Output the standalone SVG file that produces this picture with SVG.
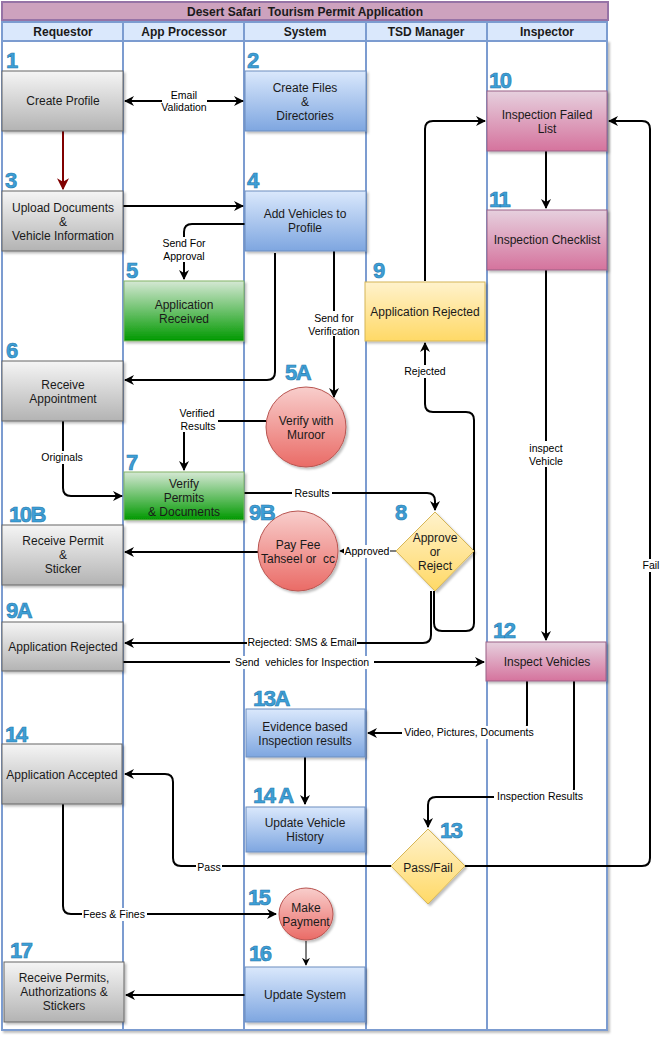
<svg xmlns="http://www.w3.org/2000/svg" width="667" height="1038" viewBox="0 0 667 1038" xml:space="preserve">
<defs>
<linearGradient id="gGray" x1="0" y1="0" x2="0" y2="1"><stop offset="0" stop-color="#f5f5f5"/><stop offset="1" stop-color="#b3b3b3"/></linearGradient>
<linearGradient id="gBlue" x1="0" y1="0" x2="0" y2="1"><stop offset="0" stop-color="#dae8fc"/><stop offset="1" stop-color="#7ea6e0"/></linearGradient>
<linearGradient id="gGreen" x1="0" y1="0" x2="0" y2="1"><stop offset="0" stop-color="#d5e8d4"/><stop offset="1" stop-color="#009900"/></linearGradient>
<linearGradient id="gPink" x1="0" y1="0" x2="0" y2="1"><stop offset="0" stop-color="#e6d0de"/><stop offset="1" stop-color="#d5739d"/></linearGradient>
<linearGradient id="gYellow" x1="0" y1="0" x2="0" y2="1"><stop offset="0" stop-color="#fff2cc"/><stop offset="1" stop-color="#ffd966"/></linearGradient>
<linearGradient id="gRed" x1="0" y1="0" x2="0" y2="1"><stop offset="0" stop-color="#f8cecc"/><stop offset="1" stop-color="#ea6b66"/></linearGradient>
<filter id="sh" x="-10%" y="-10%" width="130%" height="130%"><feDropShadow dx="2" dy="2" stdDeviation="1.2" flood-color="#000" flood-opacity="0.25"/></filter>
<marker id="arrS" viewBox="0 0 10 10" refX="9" refY="5" markerWidth="10" markerHeight="10" markerUnits="userSpaceOnUse" orient="auto-start-reverse"><path d="M0,0 L10,5 L0,10 L3,5 z" fill="#000"/></marker>
<marker id="arrR" viewBox="0 0 10 10" refX="9" refY="5" markerWidth="12" markerHeight="12" markerUnits="userSpaceOnUse" orient="auto"><path d="M0,0 L10,5 L0,10 L3,5 z" fill="#800000"/></marker>
<marker id="arrT" viewBox="0 0 10 10" refX="9" refY="5" markerWidth="8" markerHeight="8" markerUnits="userSpaceOnUse" orient="auto"><path d="M0,0 L10,5 L0,10 L3,5 z" fill="#000"/></marker>
</defs>
<style>
text{font-family:"Liberation Sans",Arial,sans-serif;fill:#1a1a1a;white-space:pre;}
.t{font-size:12px;text-anchor:middle;}
.hd{font-size:12px;font-weight:bold;text-anchor:middle;fill:#1a1a1a;}
.lbl{font-size:10.5px;text-anchor:middle;fill:#000;}
.num{font-size:22px;font-weight:bold;fill:#3d9fd6;stroke:#2678ad;stroke-width:0.6;letter-spacing:-1.5px;}
.lane{fill:#fff;stroke:#7c9cd0;stroke-width:2;}
.head{fill:#dae8fc;stroke:#7c9cd0;stroke-width:2;}
.gray{fill:url(#gGray);stroke:#666;stroke-width:1;filter:url(#sh);}
.blue{fill:url(#gBlue);stroke:#6c8ebf;stroke-width:1;filter:url(#sh);}
.green{fill:url(#gGreen);stroke:#82b366;stroke-width:1;filter:url(#sh);}
.pink{fill:url(#gPink);stroke:#996185;stroke-width:1;filter:url(#sh);}
.yellow{fill:url(#gYellow);stroke:#d6b656;stroke-width:1;filter:url(#sh);}
.red{fill:url(#gRed);stroke:#b85450;stroke-width:1;filter:url(#sh);}
.c{fill:none;stroke:#000;stroke-width:2;}
.lb{fill:#fff;}
</style>
<rect width="667" height="1038" fill="#fff"/>
<g id="pool">
<rect x="2" y="2" width="606" height="18" fill="#cda2be" stroke="#9673a6" stroke-width="2"/>
<text x="305" y="15.5" class="hd">Desert Safari  Tourism Permit Application</text>
<g filter="url(#sh)">
<rect class="lane" x="2" y="41" width="121" height="989"/>
<rect class="lane" x="123" y="41" width="121" height="989"/>
<rect class="lane" x="244" y="41" width="122" height="989"/>
<rect class="lane" x="366" y="41" width="121" height="989"/>
<rect class="lane" x="487" y="41" width="120" height="989"/>
</g>
<rect class="head" x="2" y="22" width="121" height="19"/>
<rect class="head" x="123" y="22" width="121" height="19"/>
<rect class="head" x="244" y="22" width="122" height="19"/>
<rect class="head" x="366" y="22" width="121" height="19"/>
<rect class="head" x="487" y="22" width="120" height="19"/>
<text x="63" y="36" class="hd">Requestor</text>
<text x="184" y="36" class="hd">App Processor</text>
<text x="305" y="36" class="hd">System</text>
<text x="426" y="36" class="hd">TSD Manager</text>
<text x="547" y="36" class="hd">Inspector</text>
</g>
<g id="connectors">
<path class="c" d="M63,131 L63,189" style="stroke:#800000" marker-end="url(#arrR)"/>
<path class="c" d="M125,101 L243,101" marker-start="url(#arrS)" marker-end="url(#arrS)"/>
<rect class="lb" x="162" y="90" width="45" height="24"/>
<text class="lbl" x="184" y="99">Email</text>
<text class="lbl" x="184" y="111">Validation</text>
<path class="c" d="M123,206 L243,206" marker-end="url(#arrS)"/>
<path class="c" d="M245,224 L192,224 Q184,224 184,232 L184,279" marker-end="url(#arrS)"/>
<rect class="lb" x="159" y="237" width="50" height="25"/>
<text class="lbl" x="184" y="247">Send For</text>
<text class="lbl" x="184" y="260">Approval</text>
<path class="c" d="M275,253 L275,372 Q275,380 267,380 L125,380" marker-end="url(#arrS)"/>
<path class="c" d="M334,251 L334,397" marker-end="url(#arrS)"/>
<rect class="lb" x="307" y="311" width="54" height="25"/>
<text class="lbl" x="334" y="322">Send for</text>
<text class="lbl" x="334" y="335">Verification</text>
<path class="c" d="M266,421 L184,421 L184,470" marker-end="url(#arrS)"/>
<rect class="lb" x="178" y="406" width="40" height="26"/>
<text class="lbl" x="197" y="417">Verified</text>
<text class="lbl" x="198" y="430">Results</text>
<path class="c" d="M63,421 L63,488 Q63,496 71,496 L122,496" marker-end="url(#arrS)"/>
<rect class="lb" x="40" y="451" width="45" height="13"/>
<text class="lbl" x="62" y="461">Originals</text>
<path class="c" d="M244,493 L427,493 Q435,493 435,501 L435,510" marker-end="url(#arrS)"/>
<rect class="lb" x="292" y="487" width="40" height="13"/>
<text class="lbl" x="312" y="497">Results</text>
<path class="c" d="M396,551 L340,551" style="stroke-width:1" marker-end="url(#arrT)"/>
<rect class="lb" x="344" y="545" width="46" height="13"/>
<text class="lbl" x="367" y="555">Approved</text>
<path class="c" d="M258,552 L125,552" marker-end="url(#arrS)"/>
<path class="c" d="M434,591 L434,623 Q434,631 442,631 L466,631 Q474,631 474,623 L474,420 Q474,412 466,412 L433,412 Q425,412 425,404 L425,343" marker-end="url(#arrS)"/>
<rect class="lb" x="403" y="365" width="44" height="13"/>
<text class="lbl" x="425" y="375">Rejected</text>
<path class="c" d="M431,591 L431,635 Q431,643 423,643 L125,643" marker-end="url(#arrS)"/>
<rect class="lb" x="247" y="636" width="110" height="13"/>
<text class="lbl" x="302" y="646">Rejected: SMS &amp; Email</text>
<path class="c" d="M123,662 L484,662" marker-end="url(#arrS)"/>
<rect class="lb" x="230" y="656" width="144" height="13"/>
<text class="lbl" x="302" y="666">Send  vehicles for Inspection</text>
<path class="c" d="M425,281 L425,129 Q425,121 433,121 L485,121" marker-end="url(#arrS)"/>
<path class="c" d="M546,151 L546,208" marker-end="url(#arrS)"/>
<path class="c" d="M546,270 L546,640" marker-end="url(#arrS)"/>
<rect class="lb" x="526" y="441" width="40" height="26"/>
<text class="lbl" x="546" y="452">inspect</text>
<text class="lbl" x="546" y="465">Vehicle</text>
<path class="c" d="M465,866 L642,866 Q650,866 650,858 L650,129 Q650,121 642,121 L609,121" marker-end="url(#arrS)"/>
<rect class="lb" x="641" y="559" width="20" height="13"/>
<text class="lbl" x="651" y="569">Fail</text>
<path class="c" d="M527,681 L527,725 Q527,733 519,733 L368,733" marker-end="url(#arrS)"/>
<rect class="lb" x="402" y="726" width="135" height="13"/>
<text class="lbl" x="469" y="736">Video, Pictures, Documents</text>
<path class="c" d="M574,681 L574,789 Q574,797 566,797 L436,797 Q428,797 428,805 L428,827" marker-end="url(#arrS)"/>
<rect class="lb" x="494" y="790" width="92" height="13"/>
<text class="lbl" x="540" y="800">Inspection Results</text>
<path class="c" d="M305,757 L305,804" marker-end="url(#arrS)"/>
<path class="c" d="M391,866 L181,866 Q173,866 173,858 L173,782 Q173,774 165,774 L125,774" marker-end="url(#arrS)"/>
<rect class="lb" x="196" y="861" width="26" height="13"/>
<text class="lbl" x="209" y="871">Pass</text>
<path class="c" d="M63,804 L63,906 Q63,914 71,914 L276,914" marker-end="url(#arrS)"/>
<rect class="lb" x="82" y="908" width="65" height="13"/>
<text class="lbl" x="114" y="918">Fees &amp; Fines</text>
<path class="c" d="M306,941 L306,965" style="stroke-width:1" marker-end="url(#arrT)"/>
<path class="c" d="M245,995 L126,995" marker-end="url(#arrS)"/>
</g>
<g id="n1"><rect class="gray" x="2" y="71" width="121" height="60"/><text class="t" x="63" y="105">Create Profile</text><text class="num" x="6" y="68">1</text></g>
<g id="n2"><rect class="blue" x="245" y="71" width="121" height="60"/><text class="t" x="305" y="92">Create Files</text><text class="t" x="305" y="106">&amp;</text><text class="t" x="305" y="120">Directories</text><text class="num" x="247" y="68">2</text></g>
<g id="n10"><rect class="pink" x="487" y="91" width="120" height="60"/><text class="t" x="547" y="119">Inspection Failed</text><text class="t" x="547" y="133">List</text><text class="num" x="489" y="88">10</text></g>
<g id="n3"><rect class="gray" x="2" y="191" width="121" height="60"/><text class="t" x="63" y="212">Upload Documents</text><text class="t" x="63" y="226">&amp;</text><text class="t" x="63" y="240">Vehicle Information</text><text class="num" x="5" y="188">3</text></g>
<g id="n4"><rect class="blue" x="245" y="191" width="121" height="60"/><text class="t" x="305" y="218">Add Vehicles to</text><text class="t" x="305" y="232">Profile</text><text class="num" x="247" y="188">4</text></g>
<g id="n11"><rect class="pink" x="487" y="210" width="120" height="60"/><text class="t" x="547" y="244">Inspection Checklist</text><text class="num" x="489" y="207">11</text></g>
<g id="n5"><rect class="green" x="124" y="281" width="120" height="60"/><text class="t" x="184" y="309">Application</text><text class="t" x="184" y="323">Received</text><text class="num" x="126" y="278">5</text></g>
<g id="n9"><rect class="yellow" x="365" y="282" width="120" height="59"/><text class="t" x="425" y="316">Application Rejected</text><text class="num" x="373" y="278">9</text></g>
<g id="n6"><rect class="gray" x="2" y="361" width="121" height="60"/><text class="t" x="63" y="389">Receive</text><text class="t" x="63" y="403">Appointment</text><text class="num" x="6" y="358">6</text></g>
<g id="n5A"><circle class="red" cx="306" cy="427" r="40"/><text class="t" x="306" y="425">Verify with</text><text class="t" x="306" y="439">Muroor</text><text class="num" x="285" y="380">5A</text></g>
<g id="n7"><rect class="green" x="124" y="472" width="120" height="48"/><text class="t" x="184" y="488">Verify</text><text class="t" x="184" y="502">Permits</text><text class="t" x="184" y="516">&amp; Documents</text><text class="num" x="126" y="470">7</text></g>
<g id="n9B"><circle class="red" cx="298" cy="551" r="40"/><text class="t" x="298" y="549">Pay Fee</text><text class="t" x="298" y="563">Tahseel or  cc</text><text class="num" x="249" y="520">9B</text></g>
<g id="n8"><polygon class="yellow" points="435,512 474,551 435,591 396,551"/><text class="t" x="435" y="542">Approve</text><text class="t" x="435" y="556">or</text><text class="t" x="435" y="570">Reject</text><text class="num" x="395" y="520">8</text></g>
<g id="n10B"><rect class="gray" x="2" y="525" width="121" height="60"/><text class="t" x="63" y="545">Receive Permit</text><text class="t" x="63" y="559">&amp;</text><text class="t" x="63" y="573">Sticker</text><text class="num" x="9" y="522">10B</text></g>
<g id="n9A"><rect class="gray" x="2" y="622" width="121" height="49"/><text class="t" x="63" y="651">Application Rejected</text><text class="num" x="6" y="618">9A</text></g>
<g id="n12"><rect class="pink" x="486" y="642" width="120" height="39"/><text class="t" x="547" y="666">Inspect Vehicles</text><text class="num" x="493" y="638">12</text></g>
<g id="n13A"><rect class="blue" x="246" y="709" width="119" height="48"/><text class="t" x="305" y="731">Evidence based</text><text class="t" x="305" y="745">Inspection results</text><text class="num" x="253" y="706">13A</text></g>
<g id="n14"><rect class="gray" x="2" y="744" width="120" height="60"/><text class="t" x="62" y="779">Application Accepted</text><text class="num" x="5" y="742">14</text></g>
<g id="n14A"><rect class="blue" x="246" y="807" width="119" height="45"/><text class="t" x="305" y="827">Update Vehicle</text><text class="t" x="305" y="841">History</text><text class="num" x="253" y="803">14 A</text></g>
<g id="n13"><polygon class="yellow" points="428,829 465,866 428,904 391,866"/><text class="t" x="428" y="872">Pass/Fail</text><text class="num" x="440" y="838">13</text></g>
<g id="n15"><ellipse class="red" cx="306" cy="914" rx="27" ry="26"/><text class="t" x="306" y="912">Make</text><text class="t" x="306" y="926">Payment</text><text class="num" x="248" y="905">15</text></g>
<g id="n16"><rect class="blue" x="245" y="967" width="120" height="55"/><text class="t" x="305" y="999">Update System</text><text class="num" x="249" y="961">16</text></g>
<g id="n17"><rect class="gray" x="4" y="962" width="120" height="60"/><text class="t" x="64" y="982">Receive Permits,</text><text class="t" x="64" y="996">Authorizations &amp;</text><text class="t" x="64" y="1010">Stickers</text><text class="num" x="10" y="958">17</text></g>
</svg>
